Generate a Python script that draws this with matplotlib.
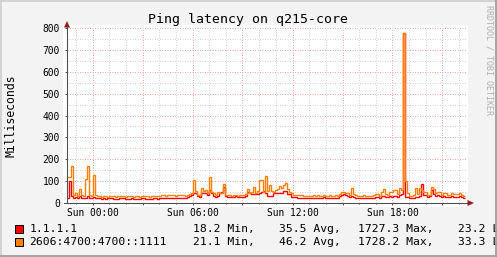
import numpy as np
import matplotlib
matplotlib.use("Agg")
import matplotlib.pyplot as plt
from matplotlib.patches import Rectangle, Polygon
from matplotlib.lines import Line2D

# ---------------- data ----------------
title = "Ping latency on q215-core"
y_label = "Milliseconds"
credit = "RRDTOOL / TOBI OETIKER"
series_names = ["1.1.1.1", "2606:4700:4700::1111"]
series_colors = ["#FF0000", "#FF8000"]
stat_min = ["18.2 Min,", "21.1 Min,"]
stat_avg = ["35.5 Avg,", "46.2 Avg,"]
stat_max = ["1727.3 Max,", "1728.2 Max,"]
stat_last = ["23.2 Last", "33.3 Last"]

x_tick_hours = [0, 6, 12, 18]
x_tick_labels = ["Sun 00:00", "Sun 06:00", "Sun 12:00", "Sun 18:00"]
y_ticks = [0, 100, 200, 300, 400, 500, 600, 700, 800]

start_hour = -1.53      # hours relative to Sun 00:00
sample_hours = 0.12     # one sample every 7.2 minutes
span_hours = 24.0

red_values = [
    25, 100, 30, 22, 28, 22, 30, 24, 22, 25, 30, 24, 22, 28, 22, 22,
    22, 20, 21, 20, 22,
    21, 22, 20, 19, 20, 22, 24, 21, 20, 20,
    20, 21, 20, 19, 20, 20, 21, 22, 20, 20, 19, 20, 21, 22, 20,
    22, 22, 24, 22, 21, 22, 24, 22, 22, 23, 22, 24, 22, 22, 28, 30,
    35, 45, 45, 30, 28, 45, 48, 45, 35, 59, 45, 30, 28, 30, 45, 50, 75, 30,
    28, 29, 27, 28, 30, 28, 28,
    29, 28, 30, 50, 48, 40, 42, 40, 42, 45, 50,
    55, 44, 32, 32, 32, 44, 44, 44, 44, 44, 55, 55, 40, 40, 29,
    29, 28, 25, 24, 24, 24, 24, 23,
    24, 22, 25, 23, 24, 22, 24, 26, 23, 22, 24, 23, 24,
    24, 25, 30, 38, 40, 38, 30, 27, 30, 27, 25,
    24, 25, 23, 24, 24, 23, 25, 24,
    25, 28, 26, 24, 30, 32, 27, 26, 30, 28, 32, 30, 28, 35, 40,
    775, 27, 26, 24, 25, 24, 28, 26, 30, 87, 38, 35, 28, 30, 60, 40, 32, 35,
    32, 28, 30, 28, 26, 26, 30, 28, 27, 28, 30, 27, 24,
]

orange_values = [
    120, 118, 170, 35, 48, 32, 65, 38, 30, 110, 170, 35, 30, 128, 35, 32,
    30, 28, 32, 30, 28,
    30, 33, 30, 28, 30, 32, 34, 30, 28, 30,
    33, 30, 28, 30, 30, 28, 30, 32, 30, 30, 28, 30, 30, 32, 30,
    34, 36, 35, 33, 35, 36, 38, 35, 34, 35, 37, 36, 35, 34, 36, 40,
    45, 104, 56, 38, 38, 68, 55, 61, 46, 117, 50, 45, 35, 50, 48, 46, 87, 38,
    35, 36, 33, 35, 38, 34, 35,
    38, 36, 40, 65, 46, 50, 72, 46, 56, 107, 107,
    50, 122, 55, 84, 55, 52, 58, 65, 76, 68, 82, 90, 62, 50, 45,
    38, 37, 36, 38, 36, 33, 32, 32,
    34, 32, 36, 33, 35, 32, 34, 36, 33, 32, 35, 33, 34,
    35, 33, 40, 52, 52, 44, 44, 38, 67, 40, 38,
    33, 34, 32, 35, 33, 32, 34, 33,
    35, 40, 40, 34, 52, 64, 40, 38, 52, 52, 59, 59, 40, 68, 59,
    777, 100, 44, 34, 32, 35, 67, 40, 68, 60, 52, 50, 37, 37, 72, 64, 44, 52,
    52, 37, 47, 47, 37, 37, 48, 40, 40, 40, 44, 35, 33,
]

# ---------------- layout ----------------
W, H = 497, 257
MONO = "DejaVu Sans Mono"
BACK = "#F3F3F3"
AXIS_COL = "#505050"
ARROW_COL = "#9A1C1C"


def fx(x):
    return x / W


def fy(y):
    return 1 - y / H


fig = plt.figure(figsize=(W / 100, H / 100), dpi=100, facecolor=BACK)

# white canvas behind the graph
fig.patches.append(Rectangle((fx(63), fy(207)), fx(468) - fx(63), fy(25) - fy(207),
                             transform=fig.transFigure, facecolor="white",
                             edgecolor="none", zorder=-1))

ax = fig.add_axes([fx(67), fy(203), fx(467) - fx(67), fy(28) - fy(203)])
ax.set_zorder(1)
ax.patch.set_alpha(0)

edges = start_hour + sample_hours * np.arange(len(red_values) + 1)
ax.stairs(red_values, edges, baseline=None, color=series_colors[0], linewidth=1.0, zorder=3)
edges_o = start_hour + sample_hours * np.arange(len(orange_values) + 1)
ax.stairs(orange_values, edges_o, baseline=None, color=series_colors[1], linewidth=1.0, zorder=4)

ax.set_xlim(start_hour, start_hour + span_hours)
ax.set_ylim(0, 800)

# ticks & grid
major_x = list(range(0, 22, 3))
ax.set_xticks(major_x)
lab_map = dict(zip(x_tick_hours, x_tick_labels))
ax.set_xticklabels([lab_map.get(h, "") for h in major_x])
ax.set_xticks([h for h in range(-1, 23) if h % 3 != 0], minor=True)
ax.set_yticks(y_ticks)
ax.set_yticklabels([str(v) for v in y_ticks])
ax.set_yticks([v + 50 for v in y_ticks[:-1]], minor=True)

for lab in ax.get_xticklabels() + ax.get_yticklabels():
    lab.set_family(MONO)
    lab.set_fontsize(6.9)
    lab.set_color("#000000")

ax.tick_params(which="both", direction="out", color=AXIS_COL, width=0.7)
ax.tick_params(axis="y", which="major", length=1.6, pad=3.6)
ax.tick_params(axis="y", which="minor", length=0)
ax.tick_params(axis="x", which="major", length=1.6, pad=2.2)
ax.tick_params(axis="x", which="minor", length=1.0)

ax.grid(which="major", color="#F2A8A8", linewidth=0.72, linestyle=(0, (1, 1.5)), zorder=1)
ax.grid(which="minor", color="#D4D4D4", linewidth=0.72, linestyle=(0, (1, 1.5)), zorder=1)
ax.set_axisbelow(True)
for s in ax.spines.values():
    s.set_visible(False)

# axis lines and arrows
fig.add_artist(Line2D([fx(67), fx(67)], [fy(203), fy(25)], transform=fig.transFigure,
                      color=AXIS_COL, linewidth=0.8, zorder=5))
fig.add_artist(Line2D([fx(64), fx(470)], [fy(203), fy(203)], transform=fig.transFigure,
                      color=AXIS_COL, linewidth=0.8, zorder=5))
fig.patches.append(Polygon([(fx(67), fy(21)), (fx(64), fy(27.5)), (fx(70), fy(27.5))],
                           closed=True, transform=fig.transFigure, facecolor=ARROW_COL,
                           edgecolor="none", zorder=6))
fig.patches.append(Polygon([(fx(474), fy(203)), (fx(467.5), fy(200)), (fx(467.5), fy(206))],
                           closed=True, transform=fig.transFigure, facecolor=ARROW_COL,
                           edgecolor="none", zorder=6))

# title, labels, credit
fig.text(fx(248), fy(19), title, family=MONO, fontsize=9.5, ha="center", va="center")
fig.text(fx(11), fy(115.5), y_label, family=MONO, fontsize=8.3, rotation=90,
         ha="center", va="center")
fig.text(fx(489), fy(60), credit, family=MONO, fontsize=6.0, rotation=270,
         ha="center", va="center", color="#B0B0B0")

# legend
rows_y = [229, 242]
for k in range(2):
    y = rows_y[k]
    fig.patches.append(Rectangle((fx(15), fy(y + 4)), fx(8), fy(0) - fy(8),
                                 transform=fig.transFigure, facecolor=series_colors[k],
                                 edgecolor="black", linewidth=0.7, zorder=5))
    kw = dict(family=MONO, fontsize=8.2, va="center", ha="left")
    fig.text(fx(29.5), fy(y), series_names[k], **kw)
    fig.text(fx(193), fy(y), stat_min[k], **kw)
    fig.text(fx(279), fy(y), stat_avg[k], **kw)
    fig.text(fx(358), fy(y), stat_max[k], **kw)
    fig.text(fx(458), fy(y), stat_last[k], **kw)

# outer 3D frame
fig.add_artist(Line2D([0, 1], [fy(0.7), fy(0.7)], transform=fig.transFigure,
                      color="#D0D0D0", linewidth=1.3, zorder=20))
fig.add_artist(Line2D([fx(0.7), fx(0.7)], [0, 1], transform=fig.transFigure,
                      color="#D0D0D0", linewidth=1.3, zorder=20))
fig.add_artist(Line2D([0, 1], [fy(H - 0.7), fy(H - 0.7)], transform=fig.transFigure,
                      color="#9E9E9E", linewidth=1.3, zorder=20))
fig.add_artist(Line2D([fx(W - 0.7), fx(W - 0.7)], [0, 1], transform=fig.transFigure,
                      color="#9E9E9E", linewidth=1.3, zorder=20))

fig.savefig("out.png", dpi=100, facecolor=BACK)
